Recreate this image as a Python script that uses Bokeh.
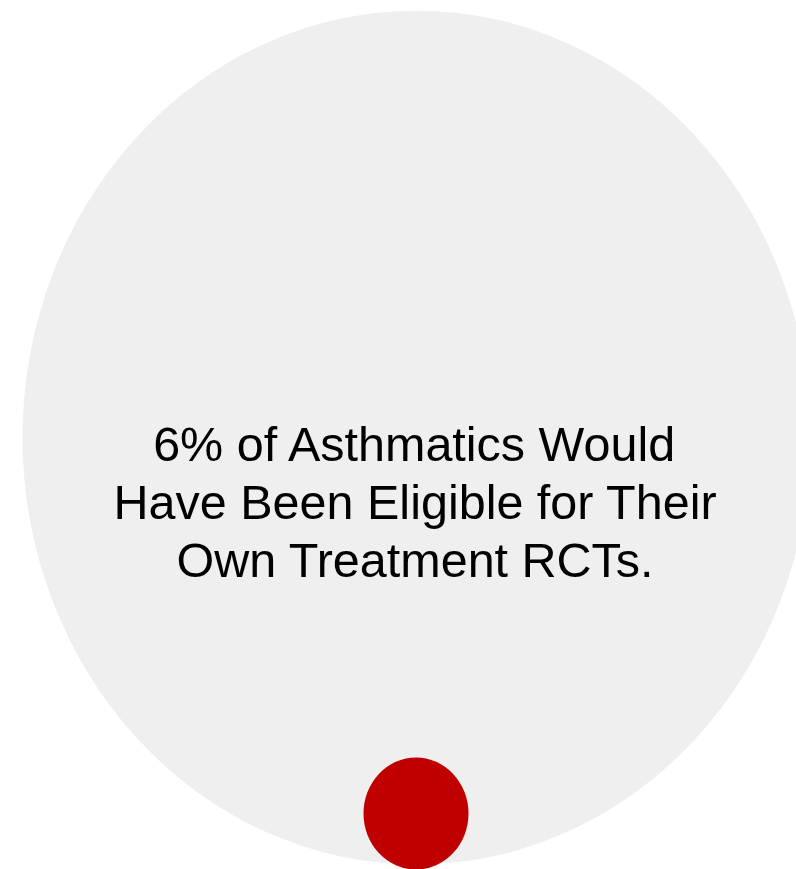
from bokeh.plotting import figure
from bokeh.models import Range1d, ColumnDataSource
from bokeh.core.properties import value
from bokeh.embed import file_html
from bokeh.resources import INLINE

# --- data ---
groups = ["All asthmatics", "Eligible for own treatment RCTs"]
percent = [100, 6]
label_lines = ["6% of Asthmatics Would",
               "Have Been Eligible for Their",
               "Own Treatment RCTs."]

W, H = 796, 869
p = figure(width=W, height=H, output_backend="svg", toolbar_location=None,
           x_range=Range1d(0, W), y_range=Range1d(H, 0),
           min_border=0, min_border_left=0, min_border_right=0,
           min_border_top=0, min_border_bottom=0)
p.axis.visible = False
p.grid.visible = False
p.outline_line_color = None
p.background_fill_color = "white"
p.border_fill_color = "white"

# bubbles (positions/sizes in layout code)
src = ColumnDataSource(dict(
    group=groups, pct=percent,
    x=[416, 415.5], y=[437, 813],
    w=[788, 105], h=[854, 112],
    color=["#EFEFEF", "#C00000"],
))
p.ellipse(x="x", y="y", width="w", height="h", fill_color="color",
          line_color=None, source=src)

tsrc = ColumnDataSource(dict(txt=label_lines, x=[415, 415, 415], y=[443, 501, 559]))
p.text(x="x", y="y", text="txt", source=tsrc, text_align="center",
       text_baseline="middle", text_font=value("Liberation Sans"),
       text_font_size="48.5px", text_color="black")

open("out.html", "w").write(file_html(p, INLINE))
